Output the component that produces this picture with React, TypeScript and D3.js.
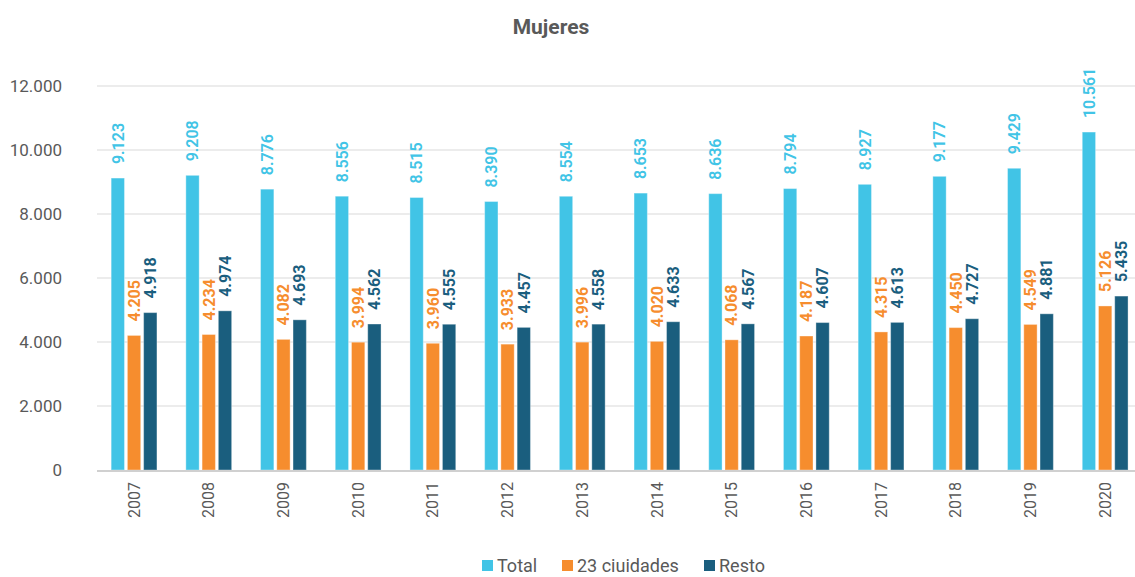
import React, { useEffect, useRef } from "react";
import * as d3 from "d3";

const years = ["2007", "2008", "2009", "2010", "2011", "2012", "2013", "2014", "2015", "2016", "2017", "2018", "2019", "2020"];
const total = [9123, 9208, 8776, 8556, 8515, 8390, 8554, 8653, 8636, 8794, 8927, 9177, 9429, 10561];
const ciudades = [4205, 4234, 4082, 3994, 3960, 3933, 3996, 4020, 4068, 4187, 4315, 4450, 4549, 5126];
const resto = [4918, 4974, 4693, 4562, 4555, 4457, 4558, 4633, 4567, 4607, 4613, 4727, 4881, 5435];
const yTicks = [0, 2000, 4000, 6000, 8000, 10000, 12000];

const seriesNames = ["Total", "23 ciuidades", "Resto"];
const colors = ["#41c4e6", "#f68d2e", "#1a5e7e"];

const locale = d3.formatLocale({ decimal: ",", thousands: ".", grouping: [3], currency: ["", ""] });
const fmt = locale.format(",d");

function App() {
    const ref = useRef<SVGSVGElement>(null);

    useEffect(() => {
        const W = 1135, H = 577;
        const svg = d3.select(ref.current);
        svg.selectAll("*").remove();

        const font = "Roboto, sans-serif";
        const gray = "#595959";

        const x = d3.scaleBand().domain(years).range([96.7, 96.7 + 14 * 74.7]);
        const sub = d3.scaleBand().domain(["0", "1", "2"]).range([-22.9, 22.9]).paddingInner(0.18);
        const y = d3.scaleLinear().domain([0, 12000]).range([470, 86]);

        // title
        svg.append("text")
            .attr("x", 551).attr("y", 34)
            .attr("text-anchor", "middle")
            .style("font-family", font).style("font-size", "21px").style("font-weight", "bold")
            .style("fill", gray)
            .text("Mujeres");

        // grid
        svg.append("g").selectAll("line")
            .data(yTicks.filter(d => d > 0))
            .enter().append("line")
            .attr("x1", 97).attr("x2", W)
            .attr("y1", d => y(d)).attr("y2", d => y(d))
            .attr("stroke", "#d9d9d9").attr("stroke-width", 1);

        // y axis labels
        const yAxis = d3.axisLeft(y).tickValues(yTicks).tickFormat(d => fmt(+d)).tickSize(0).tickPadding(0);
        svg.append("g")
            .attr("transform", "translate(62,0)")
            .call(yAxis)
            .call(g => g.select(".domain").remove())
            .selectAll("text")
            .style("font-family", font).style("font-size", "17px").style("fill", gray);

        const all = [total, ciudades, resto];

        all.forEach((vals, s) => {
            const cx = (i: number) => x(years[i])! + x.bandwidth() / 2 + sub(String(s))!;
            svg.append("g").selectAll("rect")
                .data(vals)
                .enter().append("rect")
                .attr("x", (d, i) => cx(i))
                .attr("width", sub.bandwidth())
                .attr("y", d => y(d))
                .attr("height", d => y(0) - y(d))
                .attr("fill", colors[s])
                .attr("stroke", "rgba(255,255,255,0.35)").attr("stroke-width", 1);

            svg.append("g").selectAll("text")
                .data(vals)
                .enter().append("text")
                .attr("transform", (d, i) => `translate(${cx(i) + sub.bandwidth() / 2},${y(d) - 14}) rotate(-90)`)
                .attr("dy", "0.36em")
                .style("font-family", font).style("font-size", "16px")
                .style("font-weight", s === 0 ? "600" : "bold")
                .style("fill", colors[s])
                .text(d => fmt(d));
        });

        // baseline
        svg.append("line")
            .attr("x1", 97).attr("x2", W)
            .attr("y1", y(0) + 1).attr("y2", y(0) + 1)
            .attr("stroke", "#d0d0d0").attr("stroke-width", 2);

        // x labels
        svg.append("g").selectAll("text")
            .data(years)
            .enter().append("text")
            .attr("transform", d => `translate(${x(d)! + x.bandwidth() / 2},482) rotate(-90)`)
            .attr("text-anchor", "end")
            .attr("dy", "0.35em")
            .style("font-family", font).style("font-size", "16px").style("fill", gray)
            .text(d => d);

        // legend
        const legendX = [482, 562, 704];
        seriesNames.forEach((name, s) => {
            svg.append("rect")
                .attr("x", legendX[s]).attr("y", 560)
                .attr("width", 11).attr("height", 11)
                .attr("fill", colors[s]);
            svg.append("text")
                .attr("x", legendX[s] + 15).attr("y", 572)
                .style("font-family", font).style("font-size", "18px").style("fill", gray)
                .text(name);
        });

        svg.attr("width", W).attr("height", H);
    }, []);

    return (
        <svg ref={ref} width={1135} height={577}
            style={{ position: "absolute", left: 0, top: 0, background: "#fff" }} />
    );
}

export default App;
